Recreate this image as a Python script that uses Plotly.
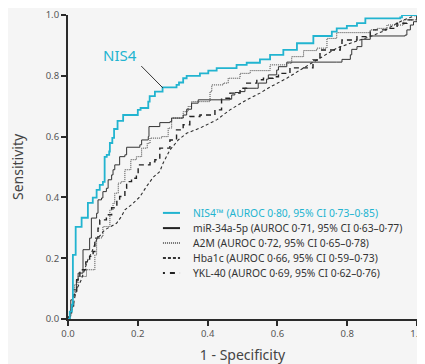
import plotly.graph_objects as go

# ---- data ----
nis4_fpr = [0, 0.005, 0.011, 0.014, 0.022, 0.039, 0.057, 0.071, 0.082, 0.091, 0.100, 0.105, 0.111, 0.118, 0.120,
            0.127, 0.132, 0.142, 0.158, 0.200, 0.208, 0.230, 0.234, 0.249, 0.271, 0.311, 0.318, 0.330, 0.340,
            0.378, 0.402, 0.426, 0.483, 0.512, 0.550, 0.579, 0.617, 0.656, 0.703, 0.756, 0.770, 0.799, 0.828,
            0.852, 0.952, 0.957, 1.0]
nis4_tpr = [0, 0.024, 0.047, 0.211, 0.303, 0.333, 0.382, 0.399, 0.425, 0.441, 0.451, 0.533, 0.540, 0.551, 0.579,
            0.596, 0.625, 0.652, 0.671, 0.688, 0.694, 0.715, 0.733, 0.748, 0.762, 0.770, 0.778, 0.792, 0.800,
            0.808, 0.817, 0.825, 0.836, 0.843, 0.854, 0.869, 0.885, 0.907, 0.931, 0.945, 0.956, 0.964, 0.973,
            0.989, 0.992, 1.0, 1.0]

mir_fpr = [0, 0.003, 0.008, 0.013, 0.024, 0.029, 0.043, 0.062, 0.067, 0.082, 0.086, 0.096, 0.100, 0.110, 0.115,
           0.125, 0.129, 0.134, 0.148, 0.163, 0.168, 0.206, 0.211, 0.230, 0.232, 0.263, 0.292, 0.297, 0.330,
           0.340, 0.354, 0.373, 0.464, 0.469, 0.478, 0.493, 0.507, 0.541, 0.545, 0.569, 0.574, 0.598, 0.603,
           0.627, 0.770, 0.785, 0.809, 0.813, 0.828, 0.842, 0.866, 0.966, 0.971, 0.981, 0.990, 1.0]
mir_tpr = [0, 0.009, 0.063, 0.096, 0.129, 0.151, 0.228, 0.266, 0.332, 0.348, 0.392, 0.398, 0.419, 0.430, 0.458,
           0.474, 0.491, 0.507, 0.534, 0.540, 0.565, 0.573, 0.589, 0.600, 0.633, 0.646, 0.649, 0.661, 0.671,
           0.690, 0.710, 0.721, 0.723, 0.737, 0.745, 0.748, 0.759, 0.759, 0.776, 0.789, 0.803, 0.819, 0.830,
           0.845, 0.845, 0.854, 0.869, 0.887, 0.896, 0.920, 0.931, 0.934, 0.951, 0.967, 0.978, 1.0]

a2m_fpr = [0, 0.005, 0.010, 0.013, 0.019, 0.029, 0.053, 0.077, 0.082, 0.096, 0.100, 0.120, 0.129, 0.134, 0.144,
           0.153, 0.163, 0.180, 0.196, 0.211, 0.227, 0.235, 0.268, 0.287, 0.297, 0.330, 0.344, 0.354, 0.407,
           0.412, 0.445, 0.459, 0.493, 0.522, 0.579, 0.627, 0.641, 0.675, 0.713, 0.742, 0.770, 0.866, 0.885,
           0.914, 0.962, 1.0]
a2m_tpr = [0, 0.024, 0.041, 0.080, 0.113, 0.140, 0.162, 0.211, 0.266, 0.271, 0.304, 0.359, 0.381, 0.414, 0.447,
           0.452, 0.491, 0.524, 0.534, 0.562, 0.578, 0.595, 0.600, 0.628, 0.661, 0.682, 0.699, 0.715, 0.748,
           0.770, 0.776, 0.792, 0.808, 0.817, 0.836, 0.841, 0.863, 0.883, 0.891, 0.923, 0.942, 0.951, 0.956,
           0.967, 0.984, 1.0]

hba_fpr = [0, 0.005, 0.014, 0.024, 0.038, 0.048, 0.057, 0.067, 0.082, 0.105, 0.139, 0.153, 0.163, 0.182, 0.206,
           0.225, 0.244, 0.263, 0.273, 0.292, 0.316, 0.340, 0.378, 0.426, 0.464, 0.512, 0.550, 0.579, 0.627,
           0.665, 0.694, 0.732, 0.770, 0.809, 0.837, 0.866, 0.904, 0.933, 0.962, 0.990, 1.0]
hba_tpr = [0, 0.020, 0.041, 0.096, 0.129, 0.162, 0.195, 0.217, 0.261, 0.293, 0.315, 0.337, 0.359, 0.376, 0.402,
           0.436, 0.466, 0.485, 0.514, 0.556, 0.589, 0.611, 0.628, 0.655, 0.688, 0.721, 0.743, 0.763, 0.792,
           0.819, 0.839, 0.863, 0.891, 0.907, 0.918, 0.929, 0.947, 0.967, 0.984, 0.994, 1.0]

ykl_fpr = [0, 0.005, 0.010, 0.016, 0.025, 0.034, 0.051, 0.062, 0.072, 0.077, 0.086, 0.091, 0.110, 0.125, 0.140,
           0.148, 0.163, 0.168, 0.182, 0.196, 0.201, 0.225, 0.235, 0.249, 0.263, 0.287, 0.292, 0.311, 0.330,
           0.349, 0.378, 0.421, 0.440, 0.464, 0.493, 0.512, 0.541, 0.560, 0.588, 0.603, 0.636, 0.702, 0.722,
           0.751, 0.780, 0.785, 0.809, 0.828, 0.866, 0.914, 0.943, 0.971, 1.0]
ykl_tpr = [0, 0.014, 0.031, 0.080, 0.129, 0.162, 0.188, 0.206, 0.222, 0.266, 0.299, 0.326, 0.343, 0.366, 0.392,
           0.403, 0.430, 0.452, 0.463, 0.474, 0.507, 0.507, 0.517, 0.524, 0.562, 0.562, 0.589, 0.622, 0.639,
           0.666, 0.671, 0.688, 0.726, 0.743, 0.759, 0.776, 0.787, 0.792, 0.797, 0.808, 0.826, 0.852, 0.885,
           0.885, 0.896, 0.918, 0.918, 0.929, 0.951, 0.956, 0.973, 0.984, 1.0]

names = ["NIS4™ (AUROC 0·80, 95% CI 0·73–0·85)",
         "miR-34a-5p (AUROC 0·71, 95% CI 0·63–0·77)",
         "A2M (AUROC 0·72, 95% CI 0·65–0·78)",
         "Hba1c (AUROC 0·66, 95% CI 0·59–0·73)",
         "YKL-40 (AUROC 0·69, 95% CI 0·62–0·76)"]

x_ticks = [0.0, 0.2, 0.4, 0.6, 0.8, 1.0]
y_ticks = [0.0, 0.2, 0.4, 0.6, 0.8, 1.0]

CYAN = "#22b4d0"
DARK = "#2b2b2b"
FONT = "Noto Sans"

series = [
    (hba_fpr, hba_tpr, dict(color="#2e2e2e", width=1.1, dash="3px,2.5px"), "linear"),
    (ykl_fpr, ykl_tpr, dict(color="#222222", width=1.4, dash="5px,4px"), "hv"),
    (a2m_fpr, a2m_tpr, dict(color="#444444", width=1, dash="1px,1px"), "hv"),
    (mir_fpr, mir_tpr, dict(color="#333333", width=1), "hv"),
    (nis4_fpr, nis4_tpr, dict(color=CYAN, width=1.8), "hv"),
]
order_names = [names[3], names[4], names[2], names[1], names[0]]

fig = go.Figure()
for (xs, ys, ln, shp), nm in zip(series, order_names):
    fig.add_trace(go.Scatter(x=xs, y=ys, mode="lines", line=dict(shape=shp, **ln),
                             name=nm, showlegend=False, hoverinfo="skip"))

# manual legend (paper coordinates)
leg_styles = [dict(color=CYAN, width=2), dict(color="#222222", width=2),
              dict(color="#444444", width=1.5, dash="1px,1px"),
              dict(color="#333333", width=2, dash="3px,2px"),
              dict(color="#222222", width=2, dash="2px,5px,5px,5px")]
leg_colors = [CYAN, "#333333", "#333333", "#333333", "#333333"]
leg_y = [0.349, 0.299, 0.250, 0.201, 0.151]
for nm, st, col, yy in zip(names, leg_styles, leg_colors, leg_y):
    fig.add_shape(type="line", xref="paper", yref="paper", x0=0.272, x1=0.321, y0=yy, y1=yy, line=st)
    fig.add_annotation(xref="paper", yref="paper", x=0.352, y=yy, text=nm, showarrow=False,
                       xanchor="left", yanchor="middle", font=dict(family=FONT, size=10.3, color=col))

# NIS4 label with leader line
fig.add_annotation(x=0.149, y=0.868, text="NIS4", showarrow=False,
                   font=dict(family=FONT, size=15, color=CYAN))
fig.add_shape(type="line", x0=0.210, y0=0.832, x1=0.272, y1=0.760, line=dict(color="#333333", width=1))

axis_common = dict(range=[0, 1], showline=True, linewidth=2, linecolor=DARK, ticks="outside",
                   ticklen=5, tickwidth=2, tickcolor=DARK, showgrid=False, zeroline=False,
                   automargin=False,
                   tickfont=dict(family=FONT, size=9.5, color="#555555"), tickformat=".1f")

# the page body adds an 8px offset, so the figure is 8px smaller than the window
fig.update_layout(
    width=417, height=356,
    margin=dict(l=60, r=8, t=7, b=45),
    paper_bgcolor="#f5f5f5", plot_bgcolor="#f5f5f5",
    xaxis=dict(tickvals=x_ticks, title=dict(text="1 - Specificity", standoff=15,
               font=dict(family=FONT, size=14, color="#444444")), **axis_common),
    yaxis=dict(tickvals=y_ticks, title=dict(text="Sensitivity", standoff=21,
               font=dict(family=FONT, size=14, color="#444444")), **axis_common),
)

fig.write_html("out.html")
